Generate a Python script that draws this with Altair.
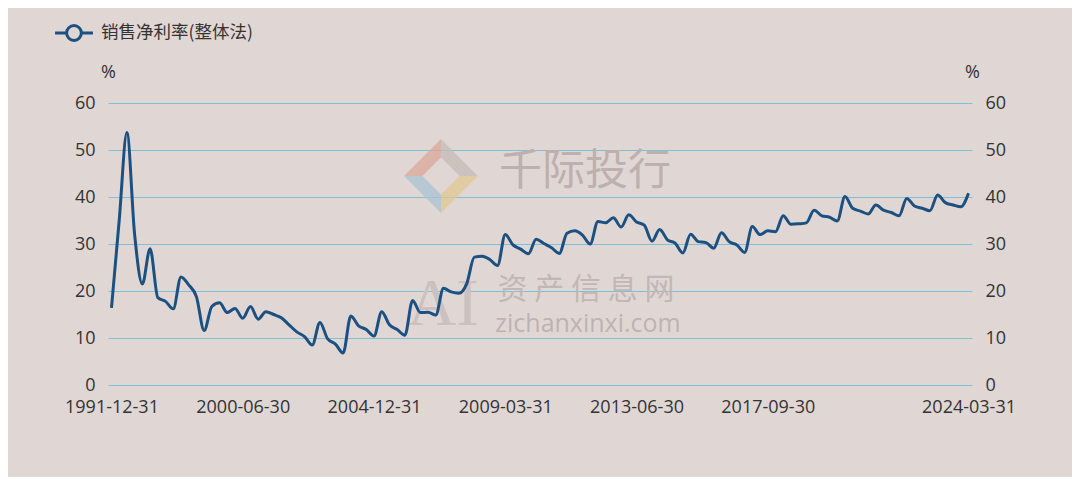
import altair as alt
import pandas as pd

series_name = "销售净利率(整体法)"

# report dates: annual 1991, semi-annual 1992-2000H1, quarterly from 2000-12-31
dates = ["1991-12-31"]
for yr in range(1992, 2001):
    dates.append(f"{yr}-06-30")
    if yr < 2000:
        dates.append(f"{yr}-12-31")
for yr in range(2000, 2025):
    for md in ["03-31", "06-30", "09-30", "12-31"]:
        d = f"{yr}-{md}"
        if d >= "2000-12-31" and d <= "2024-03-31":
            dates.append(d)

values = [
    16.4, 35.0, 53.7, 32.0, 21.5, 29.0, 18.6, 17.8, 16.2, 23.0,
    21.3, 18.8, 11.6, 16.7, 17.5, 15.4, 16.3, 14.2, 16.7, 14.0,
    15.6, 15.0, 14.3, 12.8, 11.3, 10.3, 8.5, 13.3, 9.8, 8.7,
    6.8, 14.7, 12.6, 11.8, 10.4, 15.6, 12.8, 11.8, 10.6, 18.0,
    15.4, 15.5, 14.9, 20.6, 19.8, 19.5, 21.5, 27.2, 27.4, 26.7,
    25.4, 32.0, 29.8, 28.9, 27.9, 31.0, 30.1, 29.2, 28.0, 32.3,
    32.8, 31.9, 30.0, 34.8, 34.5, 35.6, 33.6, 36.2, 34.7, 34.0,
    30.6, 33.1, 30.9, 30.2, 28.1, 32.1, 30.5, 30.3, 29.1, 32.4,
    30.5, 29.8, 28.2, 33.7, 32.0, 32.8, 32.6, 36.0, 34.2, 34.3,
    34.5, 37.2, 36.0, 35.7, 34.9, 40.1, 37.6, 37.0, 36.4, 38.3,
    37.2, 36.7, 36.0, 39.7, 38.1, 37.6, 37.1, 40.4, 38.8, 38.3,
    37.9, 40.8,
]

x_label_dates = ["1991-12-31", "2000-06-30", "2004-12-31", "2009-03-31",
                 "2013-06-30", "2017-09-30", "2024-03-31"]
y_ticks = [0, 10, 20, 30, 40, 50, 60]

wm_brand = ["千际投行"]
wm_site_cn = ["资 产 信 息 网"]
wm_site_en = ["zichanxinxi.com"]
wm_ai = ["AI"]
logo_colors = ["#d9a797", "#c7bcb6", "#a9c3d2", "#e2c792"]

df = pd.DataFrame({"date": dates, "value": values, "series": series_name})

FONT = "Noto Sans CJK SC"
LATIN = "Open Sans"
BG = "#e0d7d5"
LINE = "#1b5080"
TXT = "#333333"
GRID = "#7fc0d9"

x_enc = alt.X(
    "date:O", sort=None,
    scale=alt.Scale(type="point", padding=0.45),
    axis=alt.Axis(values=x_label_dates, labelAngle=0, title=None, ticks=False,
                  domain=False, grid=False, labelPadding=13, labelFontSize=18,
                  labelColor=TXT, labelFont=LATIN, labelOverlap=False),
)

def y_axis(orient, grid, pad):
    return alt.Axis(
        orient=orient, values=y_ticks, title="%", titleAngle=0, titleX=0,
        titleY=-31, titleAlign="center", titleBaseline="middle",
        titleFontWeight="normal", titleFontSize=18, titleColor=TXT,
        titleFont=LATIN, grid=grid, gridColor=GRID, gridWidth=1,
        domain=False, ticks=False, labelPadding=pad, labelFontSize=18,
        labelColor=TXT, labelFont=LATIN,
    )

yscale = alt.Scale(domain=[0, 60], nice=False)

legend_path = ("M-1.85,0L-0.72,0M0.72,0L1.85,0"
               "M-0.72,0A0.72,0.72,0,1,1,0.72,0A0.72,0.72,0,1,1,-0.72,0Z")

line = alt.Chart(df).mark_line(interpolate="monotone", strokeWidth=3).encode(
    x=x_enc,
    y=alt.Y("value:Q", scale=yscale, axis=y_axis("left", True, 13)),
    color=alt.Color(
        "series:N", scale=alt.Scale(range=[LINE]),
        legend=alt.Legend(
            orient="none", legendX=-46, legendY=-82, title=None, padding=0,
            symbolType=legend_path, symbolSize=420, symbolStrokeWidth=3,
            symbolFillColor=BG, labelOffset=15, labelFontSize=17.5,
            labelColor=TXT, labelFont=FONT,
        ),
    ),
)

right = alt.Chart(df).mark_line(strokeOpacity=0).encode(
    x=x_enc,
    y=alt.Y("value:Q", scale=yscale, axis=y_axis("right", False, 13)),
)

def wm(texts, px, py, size, color, font=FONT, weight="normal"):
    return alt.Chart(pd.DataFrame({"t": texts})).mark_text(
        fontSize=size, color=color, font=font, fontWeight=weight,
        align="center", baseline="middle",
    ).encode(text="t:N", x=alt.value(px), y=alt.value(py))

# logo: four bands along the edges of a diamond
logo_shapes = [
    "M-1,0L0,-1L0,-0.5L-0.5,0Z",
    "M0,-1L1,0L0.5,0L0,-0.5Z",
    "M-1,0L-0.5,0L0,0.5L0,1Z",
    "M1,0L0,1L0,0.5L0.5,0Z",
]

def logo_piece(shape, color):
    return alt.Chart(pd.DataFrame({"c": [color]})).mark_point(
        shape=shape, size=5476, filled=True, color=color, opacity=0.75,
        strokeWidth=0,
    ).encode(x=alt.value(333), y=alt.value(73))

logo = alt.layer(*[logo_piece(s, c) for s, c in zip(logo_shapes, logo_colors)])

marks = alt.layer(
    logo,
    wm(wm_brand, 477, 69, 43, "#bdb0af"),
    wm(wm_site_cn, 478, 187, 30, "#c3b6b5"),
    wm(wm_site_en, 480, 221, 25, "#bfb2b1", font=LATIN),
    wm(wm_ai, 335, 202, 68, "#ccc1c0", font="Liberation Serif"),
    line,
)

chart = alt.layer(marks, right).resolve_scale(y="independent").properties(
    width=864, height=282,
    autosize=alt.AutoSizeParams(type="none"),
    padding={"left": 100, "top": 95, "right": 100, "bottom": 92},
    background=BG,
).configure_view(stroke=None)

chart.save("out.html", embed_options={"renderer": "svg", "actions": False})
